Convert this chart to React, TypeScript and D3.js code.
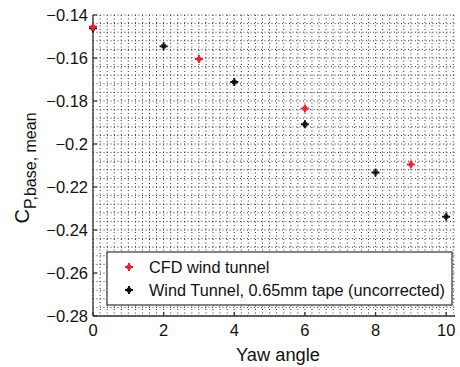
import React from "react";
import * as d3 from "d3";

// Mean base pressure coefficient vs. yaw angle
const cfdYaw = [0, 3, 6, 9];
const cfdCp = [-0.1455, -0.1605, -0.1835, -0.2095];

const tunnelYaw = [0, 2, 4, 6, 8, 10];
const tunnelCp = [-0.1462, -0.1545, -0.1712, -0.1908, -0.2132, -0.2338];

const xTicks = [0, 2, 4, 6, 8, 10];
const yTicks = [-0.14, -0.16, -0.18, -0.2, -0.22, -0.24, -0.26, -0.28];

const legendLabels = ["CFD wind tunnel", "Wind Tunnel, 0.65mm tape (uncorrected)"];

const W = 460;
const H = 367;
const left = 93;
const right = 455;
const top = 15;
const bottom = 316;

const x = d3.scaleLinear().domain([0, 10.25]).range([left, right]);
const y = d3.scaleLinear().domain([-0.28, -0.14]).range([bottom, top]);

const fmt = (v: number) => {
  const s = d3.format("")(+v.toFixed(3));
  return s.replace("-", "\u2212");
};

const font = "'Liberation Sans', Arial, Helvetica, sans-serif";

function Plus({ cx, cy, color }: { cx: number; cy: number; color: string }) {
  const r = 4;
  return (
    <g>
      <path
        d={`M${cx - r},${cy}L${cx + r},${cy}M${cx},${cy - r}L${cx},${cy + r}`}
        stroke={color}
        strokeWidth={2}
      />
      <path
        d={`M${cx - 2},${cy - 2}L${cx + 2},${cy + 2}M${cx - 2},${cy + 2}L${cx + 2},${cy - 2}`}
        stroke={color}
        strokeWidth={1.2}
      />
    </g>
  );
}

export default function App() {
  const vGrid = d3.range(0, 10.21, 0.2);
  const hGrid = d3.range(-0.28, -0.1399, 0.004);
  const red = "#e8252b";
  const black = "#111";

  const legX = 107;
  const legY = 252;
  const legW = 345;
  const legH = 53;

  return (
    <svg
      width={W}
      height={H}
      style={{ position: "absolute", left: 0, top: 0, background: "#fff" }}
      fontFamily={font}
    >
      <rect width={W} height={H} fill="#fff" />
      {/* dotted minor grid */}
      <g stroke="#333" strokeWidth={1} strokeDasharray="1 2.5">
        {vGrid.map((v, i) => (
          <line key={`v${i}`} x1={x(v)} x2={x(v)} y1={top} y2={bottom} />
        ))}
        {hGrid.map((v, i) => (
          <line key={`h${i}`} x1={left} x2={right} y1={y(v)} y2={y(v)} />
        ))}
      </g>

      {/* axes */}
      <g stroke="#333" strokeWidth={1.3}>
        <line x1={left} x2={left} y1={top} y2={bottom} />
        <line x1={left} x2={right} y1={bottom} y2={bottom} />
        {yTicks.map((t) => (
          <line key={`yt${t}`} x1={left} x2={left + 4} y1={y(t)} y2={y(t)} />
        ))}
        {xTicks.map((t) => (
          <line key={`xt${t}`} x1={x(t)} x2={x(t)} y1={bottom} y2={bottom - 4} />
        ))}
      </g>

      {/* tick labels */}
      <g fontSize={16.5} fill="#111">
        {yTicks.map((t) => (
          <text key={`yl${t}`} x={left - 5} y={y(t)} dy="0.36em" textAnchor="end">
            {fmt(t)}
          </text>
        ))}
        {xTicks.map((t) => (
          <text key={`xl${t}`} x={x(t)} y={bottom + 20} textAnchor="middle">
            {fmt(t)}
          </text>
        ))}
      </g>

      {/* axis titles */}
      <text x={278} y={361} textAnchor="middle" fontSize={18.3} fill="#111">
        Yaw angle
      </text>
      <text transform="translate(29,168) rotate(-90)" textAnchor="middle" fontSize={20} fill="#111">
        C
        <tspan fontSize={16} dy={7}>
          P,base, mean
        </tspan>
      </text>

      {/* data */}
      {tunnelYaw.map((v, i) => (
        <Plus key={`t${i}`} cx={x(v)} cy={y(tunnelCp[i])} color={black} />
      ))}
      {cfdYaw.map((v, i) => (
        <Plus key={`c${i}`} cx={x(v)} cy={y(cfdCp[i])} color={red} />
      ))}

      {/* legend */}
      <rect x={legX} y={legY} width={legW} height={legH} fill="#fff" stroke="#333" strokeWidth={1.2} />
      <Plus cx={129} cy={legY + 15} color={red} />
      <Plus cx={129} cy={legY + 38} color={black} />
      <text x={149} y={legY + 15} dy="0.36em" fontSize={16.3} fill="#111">
        {legendLabels[0]}
      </text>
      <text x={149} y={legY + 38} dy="0.36em" fontSize={16.3} fill="#111">
        {legendLabels[1]}
      </text>
    </svg>
  );
}
